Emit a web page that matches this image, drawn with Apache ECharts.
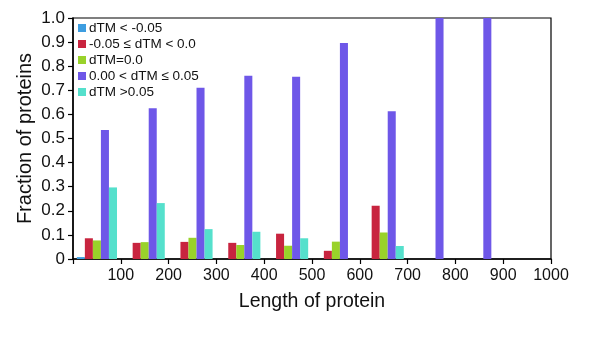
<!DOCTYPE html>
<html><head><meta charset="utf-8">
<script src="https://cdn.jsdelivr.net/npm/echarts@6/dist/echarts.min.js"></script>
<style>html,body{margin:0;padding:0;background:#fff}#c{width:600px;height:341px}</style>
</head><body><div id="c"></div>
<script>
const categories = ['0-100','100-200','200-300','300-400','400-500','500-600','600-700','700-800','800-900','900-1000'];
const xTicks = [100,200,300,400,500,600,700,800,900,1000];
const seriesNames = ['dTM < -0.05','-0.05 \u2264 dTM < 0.0','dTM=0.0','0.00 < dTM \u2264 0.05','dTM >0.05'];
const sBlue   = [0.008,0,0,0,0,0,0,0,0,0];
const sRed    = [0.086,0.067,0.071,0.067,0.105,0.034,0.221,0,0,0];
const sGreen  = [0.077,0.070,0.088,0.058,0.055,0.072,0.110,0,0,0];
const sPurple = [0.535,0.626,0.711,0.760,0.756,0.896,0.613,1.0,1.0,0];
const sCyan   = [0.297,0.232,0.124,0.113,0.086,0,0.054,0,0,0];
const colors = ['#3d9de0','#c8243f','#99d22a','#6e57e8','#55e0cc'];
const data = [sBlue,sRed,sGreen,sPurple,sCyan];

const chart = echarts.init(document.getElementById('c'));
const F = 'Liberation Sans, Arial, sans-serif';
chart.setOption({
  animation:false,
  color: colors,
  textStyle:{fontFamily:F},
  grid:{left:73,right:49,top:18,bottom:82,show:true,borderColor:'#000',borderWidth:1.2,backgroundColor:'transparent'},
  legend:{
    orient:'vertical',left:73,top:15,itemWidth:8,itemHeight:8,itemGap:0,
    icon:'rect',textStyle:{fontSize:13.5,lineHeight:16,color:'#111',fontFamily:F,padding:[0,0,0,-2]},
    data:seriesNames
  },
  xAxis:[
    {type:'category',data:categories,show:false,boundaryGap:true},
    {type:'value',min:0,max:1000,interval:100,position:'bottom',
     axisLine:{show:true,lineStyle:{color:'#000',width:1.5}},
     axisTick:{show:true,length:5,lineStyle:{color:'#000',width:1.2}},
     axisLabel:{fontSize:16,color:'#111',margin:9,formatter:v=>v===0?'':String(v)},
     splitLine:{show:false},
     name:'Length of protein',nameLocation:'middle',nameGap:33,nameMoveOverlap:false,
     nameTextStyle:{fontSize:19.5,color:'#111'}}
  ],
  yAxis:{type:'value',min:0,max:1,interval:0.1,
    axisLine:{show:true,lineStyle:{color:'#000',width:1.5}},
    axisTick:{show:true,length:5,lineStyle:{color:'#000',width:1.2}},
    axisLabel:{fontSize:17,color:'#111',margin:8,formatter:v=>v===0?'0':v.toFixed(1)},
    splitLine:{show:false},
    name:'Fraction of proteins',nameLocation:'middle',nameGap:38,nameMoveOverlap:false,
    nameTextStyle:{fontSize:20,color:'#111'}},
  series: data.map((d,i)=>({
    name:seriesNames[i],type:'bar',xAxisIndex:0,data:d,
    barGap:'0%',barCategoryGap:'16%',
    itemStyle:{color:colors[i]}
  }))
});
</script></body></html>
